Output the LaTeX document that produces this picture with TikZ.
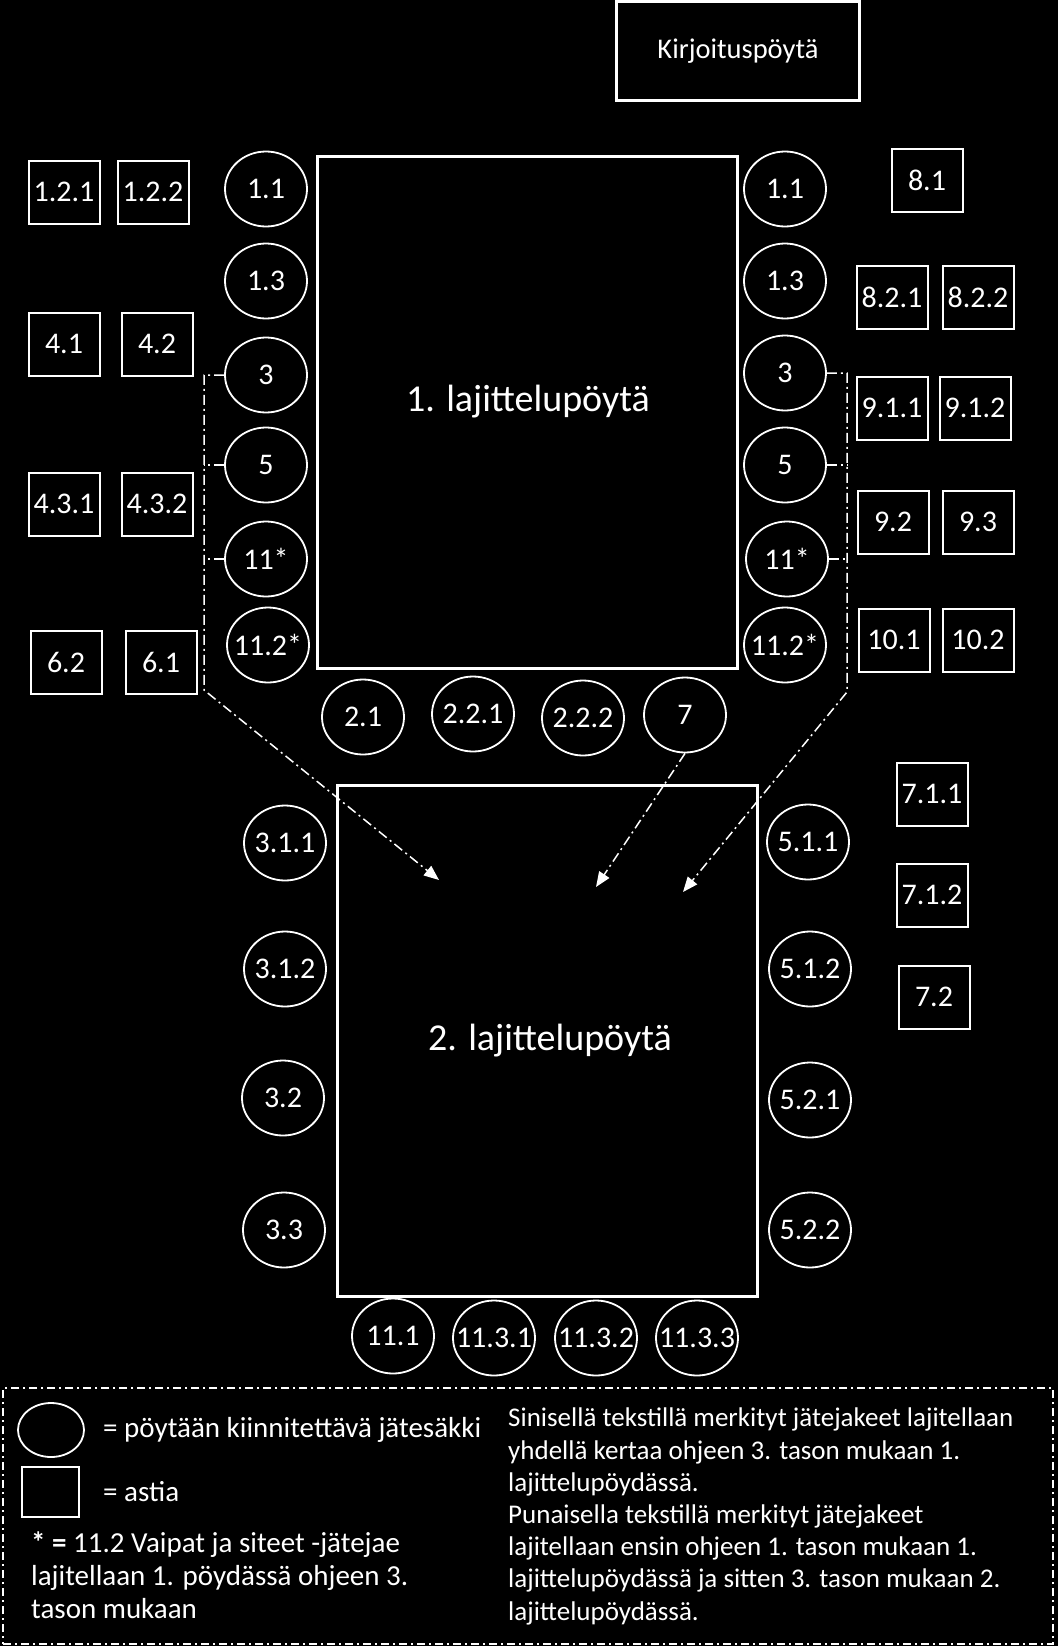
\documentclass[tikz,border=0pt]{standalone}
\usepackage{fontspec}
\setmainfont{Carlito}
\usetikzlibrary{arrows.meta,positioning,calc,shapes.geometric}
\tikzset{
  % Base styles
  plan base/.style={
    x=1pt, y=-1pt,
    every node/.style={font=\fontsize{30}{36}\selectfont, text=white},
  },
  % Tables
  table node/.style={rectangle, draw=white, line width=3pt, inner sep=0pt},
  table label/.style={font=\fontsize{38}{46}\selectfont, inner sep=0pt},
  % Bags fixed to a table
  bag node/.style={ellipse, draw=white, line width=1.8pt, minimum width=82pt, minimum height=75pt, inner xsep=-14pt, inner ysep=0pt},
  % Containers
  bin node/.style={rectangle, draw=white, line width=2pt, minimum width=71pt, minimum height=63pt, inner sep=0pt},
  % Flow lines
  flow line/.style={white, line width=1.5pt, dash pattern=on 10pt off 4pt on 2pt off 4pt},
  flow arrow/.style={flow line, -{Triangle[length=15pt,width=12pt]}},
  % Legend
  legend frame/.style={rectangle, draw=white, line width=1.5pt, dash pattern=on 8pt off 4pt on 2pt off 4pt, inner sep=0pt},
  legend text/.style={align=left, inner sep=0pt, font=\fontsize{29}{33}\selectfont},
}

\begin{document}
\begin{tikzpicture}[plan base]
\path[use as bounding box, fill=black] (0,0) rectangle (1058,1646);

% Writing desk
\node[table node, minimum width=243pt, minimum height=99pt, font=\fontsize{28.5}{34}\selectfont] (desk) at (738,51) {Kirjoituspöytä};

% Sorting table 1
\node[table node, minimum width=420pt, minimum height=512pt] (table1) at (527,412) {};
\node[table label] (table1 label) at (528,402) {1. lajittelupöytä};

% Bags, left side of table 1
\node[bag node] (L11)   at (266,189) {1.1};
\node[bag node] (L13)   at (266,281) {1.3};
\node[bag node] (L3)    at (266,375) {3};
\node[bag node] (L5)    at (266,465) {5};
\node[bag node] (L11s)  at (266,559) {11*};
\node[bag node] (L112s) at (268,645) {11.2*};

% Bags, right side of table 1
\node[bag node] (R11)   at (785,189) {1.1};
\node[bag node] (R13)   at (785,281) {1.3};
\node[bag node] (R3)    at (785,373) {3};
\node[bag node] (R5)    at (785,465) {5};
\node[bag node] (R11s)  at (787,559) {11*};
\node[bag node] (R112s) at (785,645) {11.2*};

% Bags, below table 1
\node[bag node] (B21)  at (363,717) {2.1};
\node[bag node] (B221) at (473,714) {2.2.1};
\node[bag node] (B222) at (583,718) {2.2.2};
\node[bag node] (B7)   at (685,715) {7};

% Sorting table 2
\node[table node, minimum width=420pt, minimum height=511pt] (table2) at (547,1041) {};
\node[table label] (table2 label) at (550,1041) {2. lajittelupöytä};

% Bags, left side of table 2
\node[bag node] (L311) at (285,843)  {3.1.1};
\node[bag node] (L312) at (285,969)  {3.1.2};
\node[bag node] (L32)  at (283,1098) {3.2};
\node[bag node] (L33)  at (284,1230) {3.3};

% Bags, right side of table 2
\node[bag node] (R511) at (808,842)  {5.1.1};
\node[bag node] (R512) at (810,969)  {5.1.2};
\node[bag node] (R521) at (810,1100) {5.2.1};
\node[bag node] (R522) at (810,1230) {5.2.2};

% Bags, below table 2
\node[bag node] (B111)  at (393,1336) {11.1};
\node[bag node] (B1131) at (494,1338) {11.3.1};
\node[bag node] (B1132) at (596,1338) {11.3.2};
\node[bag node] (B1133) at (697,1338) {11.3.3};

% Containers, left wall
\node[bin node] (bin121) at (64,192)  {1.2.1};
\node[bin node] (bin122) at (153,192) {1.2.2};
\node[bin node] (bin41)  at (64,344)  {4.1};
\node[bin node] (bin42)  at (157,344) {4.2};
\node[bin node] (bin431) at (64,504)  {4.3.1};
\node[bin node] (bin432) at (157,504) {4.3.2};
\node[bin node] (bin62)  at (66,662)  {6.2};
\node[bin node] (bin61)  at (161,662) {6.1};

% Containers, right wall
\node[bin node] (bin81)  at (927,180) {8.1};
\node[bin node] (bin821) at (892,297) {8.2.1};
\node[bin node] (bin822) at (978,297) {8.2.2};
\node[bin node] (bin911) at (892,408) {9.1.1};
\node[bin node] (bin912) at (975,408) {9.1.2};
\node[bin node] (bin92)  at (893,522) {9.2};
\node[bin node] (bin93)  at (978,522) {9.3};
\node[bin node] (bin101) at (894,640) {10.1};
\node[bin node] (bin102) at (978,640) {10.2};
\node[bin node] (bin711) at (932,794) {7.1.1};
\node[bin node] (bin712) at (932,895) {7.1.2};
\node[bin node] (bin72)  at (934,997) {7.2};

% Flow from table 1 to table 2
\coordinate (cornerL) at (204,690);
\coordinate (cornerR) at (847,692);
\coordinate (dropL) at (439,880);
\coordinate (drop7) at (596,887);
\coordinate (dropR) at (683,892);
\draw[flow arrow] (L3.west) -- (L3.west -| cornerL) -- (cornerL) -- (dropL);
\draw[flow line] (L5.west) -- (L5.west -| cornerL);
\draw[flow line] (L11s.west) -- (L11s.west -| cornerL);
\draw[flow arrow] (R3.east) -- (R3.east -| cornerR) -- (cornerR) -- (dropR);
\draw[flow line] (R5.east) -- (R5.east -| cornerR);
\draw[flow line] (R11s.east) -- (R11s.east -| cornerR);
\draw[flow arrow] (B7.south) -- (drop7);

% Legend
\node[legend frame, minimum width=1050pt, minimum height=256pt] (legend) at (528,1516) {};
\node[bag node, minimum width=66pt, minimum height=54pt] (key bag) at (51,1430) {};
\node[legend text, anchor=west] (key bag text) at (103,1430) {= pöytään kiinnitettävä jätesäkki};
\node[bin node, minimum width=57pt, minimum height=50pt] (key bin) at (50,1492) {};
\node[legend text, anchor=west] (key bin text) at (103,1492) {= astia};
\node[legend text, anchor=base west] (key star) at (31,1618)
  {\textbf{* =} 11.2 Vaipat ja siteet -jätejae\\
   lajitellaan 1. pöydässä ohjeen 3.\\
   tason mukaan};
\node[legend text, anchor=base west, font=\fontsize{27}{32.2}\selectfont] (key colours) at (508,1620)
  {Sinisellä tekstillä merkityt jätejakeet lajitellaan\\
   yhdellä kertaa ohjeen 3. tason mukaan 1.\\
   lajittelupöydässä.\\
   Punaisella tekstillä merkityt jätejakeet\\
   lajitellaan ensin ohjeen 1. tason mukaan 1.\\
   lajittelupöydässä ja sitten 3. tason mukaan 2.\\
   lajittelupöydässä.};
\end{tikzpicture}
\end{document}
